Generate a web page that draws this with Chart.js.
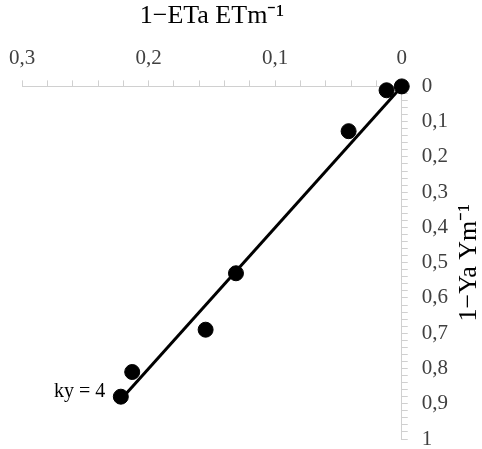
<!DOCTYPE html>
<html>
<head>
<meta charset="utf-8">
<script src="https://cdn.jsdelivr.net/npm/chart.js@4.4.0/dist/chart.umd.min.js"></script>
<style>
  html, body { margin: 0; padding: 0; background: #fff; }
  #wrap { width: 482px; height: 449px; }
</style>
</head>
<body>
<div id="wrap"><canvas id="canvas"></canvas></div>
<script>
// observed points: relative ET deficit vs relative yield decrease
var etDeficit = [0, 0.012, 0.042, 0.131, 0.155, 0.213, 0.222];
var yieldDecrease = [0, 0.011, 0.127, 0.53, 0.69, 0.81, 0.88];

// fitted line, slope ky = 4
var fitX = [0, 0.22];
var fitY = [0, 0.88];
var fitLabel = "ky = 4";

var xTickValues = [0, 0.1, 0.2, 0.3];
var xTickLabels = ["0", "0,1", "0,2", "0,3"];
var yTickValues = [0, 0.1, 0.2, 0.3, 0.4, 0.5, 0.6, 0.7, 0.8, 0.9, 1];
var yTickLabels = ["0", "0,1", "0,2", "0,3", "0,4", "0,5", "0,6", "0,7", "0,8", "0,9", "1"];

var xTitle = "1\u2212ETa ETm\u207B\u00B9";
var yTitle = "1\u2212Ya Ym\u207B\u00B9";

var serif = "'Liberation Serif', 'Times New Roman', serif";

function pickLabel(values, labels) {
  return function(v) {
    for (var i = 0; i < values.length; i++) {
      if (Math.abs(values[i] - v) < 1e-6) return labels[i];
    }
    return "";
  };
}

var points = etDeficit.map(function(x, i) { return {x: x, y: yieldDecrease[i]}; });
var fitLine = fitX.map(function(x, i) { return {x: x, y: fitY[i]}; });

// draws the rotated y title (bottom-to-top) and the ky label
var extraText = {
  id: 'extraText',
  afterDraw: function(chart) {
    var ctx = chart.ctx;
    var xs = chart.scales.x, ys = chart.scales.y;
    ctx.save();
    ctx.fillStyle = '#000';
    ctx.font = "26px " + serif;
    ctx.textAlign = 'center';
    ctx.textBaseline = 'middle';
    ctx.translate(469, (chart.chartArea.top + chart.chartArea.bottom) / 2);
    ctx.rotate(-Math.PI / 2);
    ctx.fillText(yTitle, 0, 0);
    ctx.restore();

    ctx.save();
    ctx.fillStyle = '#000';
    ctx.font = "20px " + serif;
    ctx.textAlign = 'right';
    ctx.textBaseline = 'middle';
    var last = fitX.length - 1;
    ctx.fillText(fitLabel, xs.getPixelForValue(fitX[last]) - 18, ys.getPixelForValue(fitY[last]) - 5);
    ctx.restore();
  }
};

var ctx = document.getElementById("canvas");
var chart = new Chart(ctx, {
  type: 'scatter',
  data: {
    datasets: [
      {
        label: 'fit',
        type: 'line',
        data: fitLine,
        borderColor: '#000',
        borderWidth: 3,
        pointRadius: 0,
        fill: false,
        clip: false,
        order: 2
      },
      {
        label: 'observed',
        data: points,
        backgroundColor: '#000',
        borderColor: '#000',
        pointRadius: 7.5,
        clip: false,
        order: 1
      }
    ]
  },
  options: {
    responsive: true,
    maintainAspectRatio: false,
    animation: false,
    layout: { autoPadding: false, padding: { left: 15, right: 20, top: 0, bottom: 0 } },
    plugins: {
      legend: { display: false },
      tooltip: { enabled: false }
    },
    scales: {
      x: {
        type: 'linear',
        position: 'top',
        reverse: true,
        min: 0,
        max: 0.3,
        border: { color: '#d0d0d0', width: 1 },
        grid: { drawOnChartArea: false, drawTicks: true, tickLength: 6, color: '#d0d0d0' },
        ticks: {
          stepSize: 0.02,
          autoSkip: false,
          maxRotation: 0,
          padding: 9,
          color: '#404040',
          font: { family: serif, size: 21 },
          callback: pickLabel(xTickValues, xTickLabels)
        },
        title: {
          display: true,
          text: xTitle,
          color: '#000',
          font: { family: serif, size: 26 },
          padding: { top: 1, bottom: 5 }
        }
      },
      y: {
        type: 'linear',
        position: 'right',
        reverse: true,
        min: 0,
        max: 1,
        border: { color: '#d0d0d0', width: 1 },
        grid: { drawOnChartArea: false, drawTicks: true, tickLength: 6, color: '#d0d0d0' },
        ticks: {
          stepSize: 0.02,
          autoSkip: false,
          padding: 14,
          color: '#404040',
          font: { family: serif, size: 21, lineHeight: 1 },
          callback: pickLabel(yTickValues, yTickLabels)
        },
        afterFit: function(scale) {
          // keep only room for half of the last label below the axis
          scale.paddingTop = 0;
          scale.paddingBottom = 10;
        }
      }
    }
  },
  plugins: [extraText]
});
</script>
</body>
</html>
